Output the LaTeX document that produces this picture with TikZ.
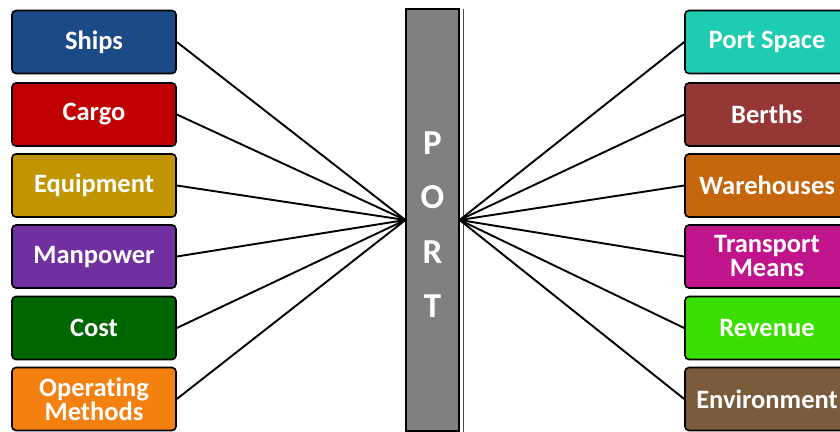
\documentclass[tikz,border=0pt]{standalone}
\usepackage{fontspec}
\setsansfont{Carlito}[Ligatures=NoCommon]
\usepackage{xcolor}
\usetikzlibrary{positioning, calc}
\definecolor{shipblue}{HTML}{1C4A86}
\definecolor{cargored}{HTML}{C00000}
\definecolor{equipgold}{HTML}{C09500}
\definecolor{manpurple}{HTML}{7030A0}
\definecolor{costgreen}{HTML}{006600}
\definecolor{methorange}{HTML}{F48010}
\definecolor{spaceteal}{HTML}{1ECCB2}
\definecolor{berthred}{HTML}{953735}
\definecolor{warebrown}{HTML}{C5650C}
\definecolor{transmagenta}{HTML}{C0148C}
\definecolor{revgreen}{HTML}{3ADF00}
\definecolor{envbrown}{HTML}{7A5C3C}
\definecolor{portgray}{HTML}{808080}
\tikzset{
  link/.style={line width=1.9pt, black},
  factor/.style={rectangle, rounded corners=4pt, draw=black, line width=1.6pt, minimum width=164pt, minimum height=63pt, inner sep=1pt, align=center, text=white, font=\sffamily\bfseries\fontsize{26.5}{28}\selectfont},
  portbar/.style={rectangle, draw=black, line width=1.2pt, fill=portgray, minimum width=53pt, minimum height=422pt, inner sep=0pt},
}
\begin{document}
\begin{tikzpicture}[x=1pt, y=-1pt]
  \clip (0,0) rectangle (840,431);

  % Central bar
  \node[portbar] (port) at (432.5,220) {};
  \draw[white, line width=0.8pt] ($(port.north east)+(2.5,1)$) -- ($(port.south east)+(2.5,0)$);
  \draw[black!70, line width=0.6pt] ($(port.north east)+(4,1)$) -- ($(port.south east)+(4,0)$);
  \foreach \ch/\yy in {P/143, O/197, R/252, T/306}
    \node[text=white, font=\sffamily\bfseries\fontsize{35}{35}\selectfont] (let\ch) at (432.5,\yy) {\ch};

  % Left factors
  \node[factor, fill=shipblue] (ships) at (94,42) {Ships};
  \node[factor, fill=cargored] (cargo) at (94,114.5) {Cargo};
  \node[factor, fill=equipgold] (equip) at (94,185.5) {Equipment};
  \node[factor, fill=manpurple] (manpower) at (94,256.5) {Manpower};
  \node[factor, fill=costgreen] (cost) at (94,328) {Cost};
  \node[factor, fill=methorange] (opmeth) at (94,399) {Operating\\[-4pt]Methods};

  % Right factors
  \node[factor, fill=spaceteal] (portspace) at (767,42) {Port Space};
  \node[factor, fill=berthred] (berths) at (767,114.5) {Berths};
  \node[factor, fill=warebrown] (wareh) at (767,185.5) {Warehouses};
  \node[factor, fill=transmagenta] (transport) at (767,256.5) {Transport\\[-4pt]Means};
  \node[factor, fill=revgreen] (revenue) at (767,328) {Revenue};
  \node[factor, fill=envbrown] (environ) at (767,399) {Environment};

  % Links
  \foreach \n in {ships,cargo,equip,manpower,cost,opmeth}
    \draw[link] (\n.east) -- (port.west);
  \foreach \n in {portspace,berths,wareh,transport,revenue,environ}
    \draw[link] (port.east) -- (\n.west);
\end{tikzpicture}
\end{document}
